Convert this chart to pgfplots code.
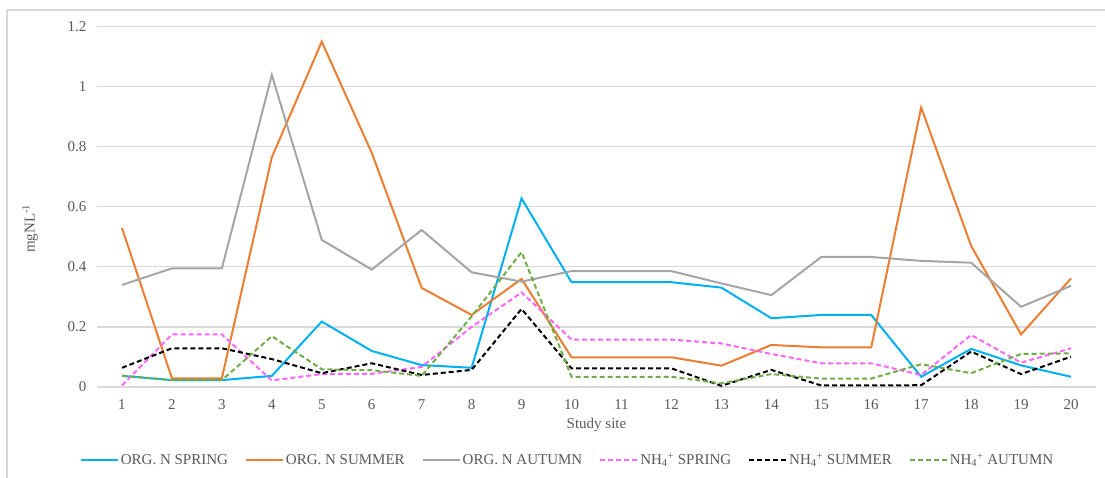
\documentclass[border=0pt]{standalone}
\usepackage{pgfplots}
\pgfplotsset{compat=1.18}
\usepackage{fontspec}
\setmainfont{Liberation Serif}
\definecolor{cSpring}{HTML}{00B0F0}
\definecolor{cSummer}{HTML}{ED7D31}
\definecolor{cAutumn}{HTML}{A5A5A5}
\definecolor{cNSpring}{HTML}{FF66FF}
\definecolor{cNAutumn}{HTML}{70AD47}
\definecolor{gridc}{HTML}{D9D9D9}
\definecolor{txt}{HTML}{595959}
\begin{document}
\begin{tikzpicture}
\useasboundingbox (-97bp,-91bp) rectangle (1008bp,387bp);
\draw[gridc, line width=1.3bp] (-90bp,-120bp) -- (-90bp,377bp) -- (1040bp,377bp);
\begin{axis}[
  at={(0,0)}, anchor=south west,
  scale only axis, width=999bp, height=360.3bp,
  xmin=0.5, xmax=20.5, ymin=0, ymax=1.2,
  xtick={1,...,20}, ytick={0,0.2,...,1.2},
  ymajorgrids, grid style={gridc, line width=1.2bp},
  axis line style={draw=none},
  major tick length=0pt,
  /pgf/number format/assume math mode=true,
  tick label style={font=\fontsize{15bp}{18bp}\selectfont, text=txt},
  xticklabel style={yshift=-9bp},
  yticklabel style={xshift=-7bp},
  xlabel={Study site},
  ylabel={mgNL\textsuperscript{-1}},
  every axis x label/.style={at={(axis description cs:0.5,0)}, anchor=center, yshift=-38bp,
    font=\fontsize{15bp}{18bp}\selectfont, text=txt},
  every axis y label/.style={at={(axis description cs:-0.067,0.44)}, rotate=90, anchor=center,
    font=\fontsize{15bp}{18bp}\selectfont, text=txt},
  legend columns=6,
  legend style={at={(axis description cs:0.471,-0.2026)}, anchor=center, draw=none, fill=none,
    font=\fontsize{15bp}{18bp}\selectfont, text=txt,
    /tikz/every even column/.append style={column sep=15bp}},
  legend image code/.code={\draw[#1] (0bp,0bp) -- (37bp,0bp);},
  clip=false,
]
\addplot[cSpring, line width=2bp] coordinates {(1,0.037)(2,0.023)(3,0.023)(4,0.037)(5,0.218)(6,0.12)(7,0.073)(8,0.064)(9,0.628)(10,0.349)(11,0.349)(12,0.349)(13,0.331)(14,0.229)(15,0.24)(16,0.24)(17,0.034)(18,0.127)(19,0.072)(20,0.034)};
\addlegendentry{ORG. N SPRING}
\addplot[cSummer, line width=2bp] coordinates {(1,0.53)(2,0.029)(3,0.029)(4,0.765)(5,1.15)(6,0.78)(7,0.33)(8,0.24)(9,0.36)(10,0.099)(11,0.099)(12,0.099)(13,0.071)(14,0.14)(15,0.132)(16,0.132)(17,0.931)(18,0.47)(19,0.175)(20,0.362)};
\addlegendentry{ORG. N SUMMER}
\addplot[cAutumn, line width=2bp] coordinates {(1,0.34)(2,0.395)(3,0.395)(4,1.039)(5,0.49)(6,0.391)(7,0.523)(8,0.382)(9,0.351)(10,0.386)(11,0.386)(12,0.386)(13,0.345)(14,0.306)(15,0.433)(16,0.433)(17,0.42)(18,0.414)(19,0.267)(20,0.337)};
\addlegendentry{ORG. N AUTUMN}
\addplot[cNSpring, line width=2bp, dash pattern=on 5bp off 3bp] coordinates {(1,0.005)(2,0.175)(3,0.175)(4,0.022)(5,0.043)(6,0.044)(7,0.067)(8,0.2)(9,0.315)(10,0.158)(11,0.158)(12,0.158)(13,0.145)(14,0.11)(15,0.079)(16,0.079)(17,0.04)(18,0.173)(19,0.081)(20,0.129)};
\addlegendentry{NH\textsubscript{4}\textsuperscript{+} SPRING}
\addplot[black, line width=2bp, dash pattern=on 5bp off 3bp] coordinates {(1,0.064)(2,0.129)(3,0.129)(4,0.093)(5,0.046)(6,0.079)(7,0.04)(8,0.057)(9,0.26)(10,0.062)(11,0.062)(12,0.062)(13,0.004)(14,0.057)(15,0.005)(16,0.005)(17,0.006)(18,0.118)(19,0.043)(20,0.101)};
\addlegendentry{NH\textsubscript{4}\textsuperscript{+} SUMMER}
\addplot[cNAutumn, line width=2bp, dash pattern=on 5bp off 3bp] coordinates {(1,0.038)(2,0.023)(3,0.023)(4,0.169)(5,0.059)(6,0.056)(7,0.037)(8,0.235)(9,0.449)(10,0.034)(11,0.034)(12,0.034)(13,0.012)(14,0.043)(15,0.028)(16,0.028)(17,0.076)(18,0.046)(19,0.11)(20,0.112)};
\addlegendentry{NH\textsubscript{4}\textsuperscript{+} AUTUMN}
\end{axis}
\end{tikzpicture}
\end{document}
